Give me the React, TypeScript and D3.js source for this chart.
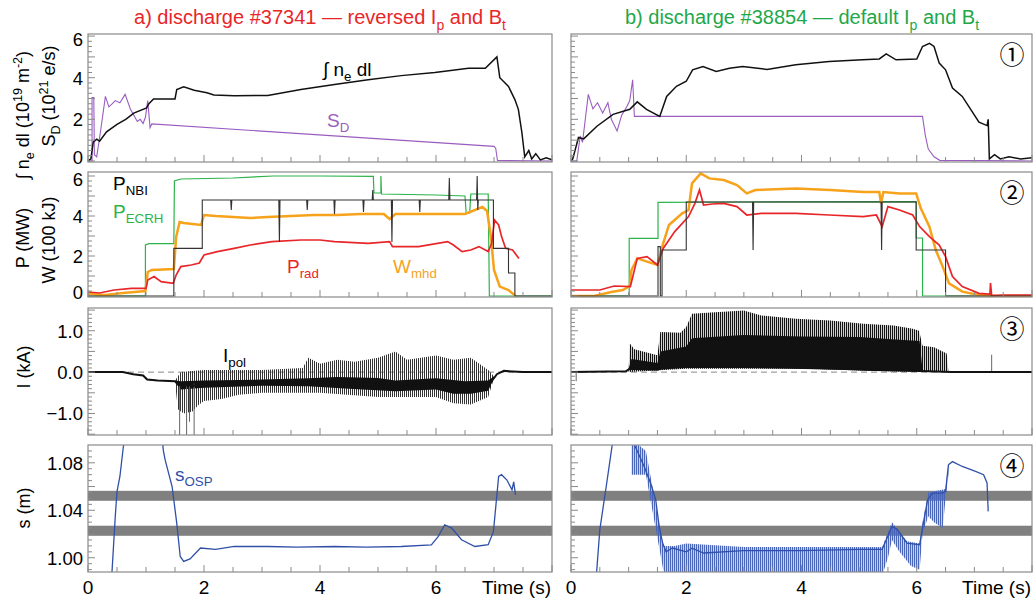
import * as d3 from "d3";

type P = [number, number];
type Part = [string, "n" | "sub" | "sup"];

const FONT = "'Liberation Sans', Arial, Helvetica, sans-serif";
const RED = "#e8262a";
const GREEN = "#1fa84a";
const ORANGE = "#f7a21b";
const PURPLE = "#9a5cc0";
const BLUE = "#3050a8";
const FRAME = "#8a8a8a";

// ---- panel 1: line-integrated density and fuelling ----
const neLeft: P[] = [
  [0, 0], [0.05, 0.1], [0.09, 0.9], [0.15, 1.05], [0.2, 0.95], [0.32, 1.4], [0.5, 1.76], [0.65, 2.0],
  [0.79, 2.3], [1.01, 2.55], [1.05, 2.75], [1.13, 2.98], [1.5, 2.98], [1.53, 3.43], [1.65, 3.56],
  [1.83, 3.4], [2.05, 3.28], [2.17, 3.17], [2.52, 3.13], [3.1, 3.15], [3.67, 3.43], [4.25, 3.67],
  [4.83, 3.9], [5.4, 4.1], [5.98, 4.25], [6.56, 4.45], [6.85, 4.45], [7.05, 5.0], [7.1, 4.0],
  [7.25, 3.58], [7.36, 2.95], [7.42, 2.48], [7.48, 1.38], [7.53, 0.2], [7.6, 0.5], [7.65, 0.1],
  [7.72, 0.35], [7.8, 0.05], [7.9, 0.15], [8, 0.05],
];
const sdLeft: P[] = [
  [0, 0], [0.07, 0], [0.07, 3.05], [0.1, 3.05], [0.11, 0.3], [0.15, 0.2], [0.22, 1.5], [0.27, 2.5],
  [0.3, 3.1], [0.36, 2.6], [0.42, 2.75], [0.47, 2.9], [0.55, 2.8], [0.64, 3.2], [0.73, 2.5],
  [0.85, 1.9], [0.9, 2.0], [0.95, 1.8], [0.99, 2.1], [1.03, 2.9], [1.07, 1.6], [1.1, 1.78],
  [7.0, 0.7], [7.03, 0.6], [7.06, 0.02], [8, 0],
];
const neRight: P[] = [
  [0, 0], [0.03, 0.1], [0.13, 1.13], [0.22, 1.06], [0.45, 1.67], [0.73, 2.24], [1.02, 2.48],
  [1.15, 2.84], [1.31, 2.48], [1.54, 2.14], [1.66, 3.1], [1.83, 3.59], [2.0, 3.83], [2.11, 4.38],
  [2.29, 4.54], [2.52, 4.3], [2.75, 4.45], [2.98, 4.54], [3.4, 4.4], [3.9, 4.62], [4.48, 4.78],
  [5.06, 4.86], [5.35, 4.9], [5.47, 5.14], [5.64, 4.86], [6.0, 4.9], [6.1, 5.5], [6.22, 5.65],
  [6.3, 5.5], [6.39, 4.7], [6.5, 4.38], [6.62, 3.5], [6.79, 3.1], [7.08, 1.86], [7.22, 1.7],
  [7.24, 2.0], [7.26, 0.1], [7.35, 0.3], [7.45, 0.1], [7.6, 0.2], [7.8, 0.1], [8, 0.15],
];
const sdRight: P[] = [
  [0, 0], [0.1, 0], [0.16, 1.2], [0.2, 0.9], [0.3, 3.2], [0.38, 2.5], [0.46, 2.8], [0.55, 2.3],
  [0.64, 2.8], [0.7, 2.0], [0.8, 1.44], [0.88, 2.2], [0.97, 2.62], [1.02, 2.9], [1.07, 3.9],
  [1.1, 2.14], [6.1, 2.14], [6.15, 1.2], [6.2, 0.57], [6.3, 0.2], [6.4, 0.03], [8, 0],
];

// ---- panel 2: heating powers, radiation, stored energy ----
const ecrhLeft: P[] = [
  [0, 0], [0.99, 0], [0.99, 2.55], [1.05, 2.62], [1.48, 2.62], [1.49, 5.75], [1.6, 5.85], [2.5, 5.9],
  [3.2, 6.0], [4.0, 6.0], [4.92, 5.98], [4.93, 5.15], [5.05, 5.15], [5.05, 6.0], [5.06, 5.1],
  [6.0, 5.05], [6.5, 5.0], [6.52, 4.15], [6.58, 4.15], [6.6, 5.1], [6.9, 5.1], [6.92, 0], [8, 0],
];
const nbiLeft: P[] = [
  [0, 0], [1.48, 0], [1.48, 2.38], [1.97, 2.38], [1.97, 4.8],
  [2.46, 4.8], [2.47, 4.3], [2.48, 4.8], [3.29, 4.8], [3.3, 2.7], [3.31, 4.8],
  [3.77, 4.8], [3.78, 4.3], [3.79, 4.8], [4.24, 4.8], [4.25, 4.1], [4.26, 4.8],
  [4.74, 4.8], [4.75, 4.2], [4.76, 4.8], [4.9, 4.8], [4.91, 5.3], [4.92, 4.8],
  [5.23, 4.8], [5.24, 2.7], [5.25, 4.8], [5.71, 4.8], [5.72, 4.2], [5.73, 4.8],
  [6.22, 4.8], [6.23, 5.9], [6.24, 4.8], [6.7, 4.8], [6.71, 6.0], [6.72, 4.3], [6.73, 4.8],
  [6.99, 4.8], [6.99, 2.38], [7.25, 2.38], [7.25, 1.15], [7.36, 1.15], [7.36, 0], [8, 0],
];
const wmhdLeft: P[] = [
  [0, 0.1], [0.3, 0.05], [0.6, 0.15], [0.8, 0.2], [0.99, 0.25], [1.03, 1.2], [1.1, 1.3], [1.48, 1.35],
  [1.52, 2.95], [1.58, 3.7], [1.65, 3.65], [1.8, 3.6], [1.95, 3.55], [2.0, 4.05], [2.2, 4.0],
  [2.5, 3.95], [2.8, 3.9], [3.1, 3.95], [3.5, 4.0], [3.9, 4.05], [4.3, 4.05], [4.7, 4.1], [5.1, 4.1],
  [5.2, 3.85], [5.3, 4.1], [5.7, 4.1], [6.1, 4.1], [6.5, 4.1], [6.8, 4.45], [6.88, 4.25],
  [6.95, 2.9], [7.0, 1.3], [7.1, 0.47], [7.25, 0.3], [7.37, 0],
];
const pradLeft: P[] = [
  [0, 0.2], [0.2, 0.15], [0.45, 0.3], [0.75, 0.38], [1.0, 0.38], [1.03, 0.8], [1.14, 0.97],
  [1.26, 0.72], [1.47, 0.63], [1.52, 1.05], [1.6, 1.47], [1.78, 1.55], [1.92, 1.65], [2.0, 2.05],
  [2.23, 2.22], [2.52, 2.38], [2.8, 2.55], [3.17, 2.72], [3.67, 2.8], [4.0, 2.8], [4.25, 2.72],
  [4.83, 2.63], [5.2, 2.72], [5.25, 2.47], [5.7, 2.47], [6.2, 2.72], [6.3, 2.55], [6.45, 2.22],
  [6.6, 2.3], [6.74, 2.47], [6.9, 2.22], [6.96, 2.63], [7.01, 3.8], [7.08, 3.55], [7.13, 2.97],
  [7.2, 2.38], [7.32, 2.3], [7.43, 1.88],
];
const ecrhRight: P[] = [
  [0, 0], [1.01, 0], [1.01, 2.88], [1.51, 2.88], [1.51, 4.68], [3.0, 4.7], [5.99, 4.72],
  [5.99, 2.9], [6.1, 2.9], [6.1, 0], [8, 0],
];
const nbiRight: P[] = [
  [0, 0], [1.51, 0], [1.51, 2.47], [1.55, 2.47], [1.55, 0], [1.58, 0], [1.58, 2.3], [2.0, 2.3],
  [2.0, 4.7], [3.15, 4.7], [3.16, 2.3], [3.17, 4.7], [5.38, 4.7], [5.39, 2.3], [5.4, 4.7],
  [5.99, 4.7], [5.99, 2.3], [6.5, 2.3], [6.5, 0], [8, 0],
];
const wmhdRight: P[] = [
  [0, 0], [0.4, 0], [0.7, 0.2], [0.9, 0.3], [1.02, 0.5], [1.05, 1.3], [1.15, 1.88], [1.32, 1.72],
  [1.5, 1.55], [1.6, 2.63], [1.7, 3.55], [1.93, 4.13], [2.04, 4.3], [2.1, 5.63], [2.25, 6.13],
  [2.4, 5.88], [2.65, 5.8], [2.88, 5.55], [3.05, 5.13], [3.2, 5.3], [3.9, 5.38], [4.5, 5.3],
  [5.07, 5.2], [5.35, 5.2], [5.38, 4.63], [5.42, 5.2], [5.7, 5.13], [5.99, 5.13], [6.07, 4.38],
  [6.22, 3.47], [6.33, 2.3], [6.45, 1.47], [6.56, 0.63], [6.79, 0.22], [7.08, 0.05], [7.4, 0], [8, 0],
];
const pradRight: P[] = [
  [0, 0.3], [0.5, 0.3], [0.75, 0.5], [1.03, 0.47], [1.15, 1.88], [1.32, 1.97], [1.5, 1.55],
  [1.6, 2.38], [1.8, 3.22], [2.04, 3.97], [2.15, 4.63], [2.23, 5.3], [2.3, 4.55], [2.45, 4.6],
  [2.65, 4.63], [2.88, 4.47], [3.05, 4.05], [3.3, 4.13], [3.9, 4.13], [4.48, 4.05], [5.07, 3.97],
  [5.3, 4.05], [5.4, 3.47], [5.5, 4.47], [5.7, 4.3], [5.93, 4.05], [6.05, 3.47], [6.22, 2.97],
  [6.39, 2.55], [6.5, 1.97], [6.62, 0.97], [6.79, 0.47], [7.08, 0.13], [7.27, 0.1], [7.28, 0.65],
  [7.3, 0.02], [7.5, 0.05], [8, 0.05],
];

// ---- panel 3: poloidal divertor current (mean, dense core, spike envelope) ----
const ipolBaseLeft: P[] = [
  [0, 0], [0.6, 0], [0.78, -0.05], [0.95, -0.08], [1.02, -0.18], [1.2, -0.2], [1.5, -0.22],
  [1.57, -0.31], [1.8, -0.33], [2.2, -0.28], [3.0, -0.25], [3.8, -0.24], [4.5, -0.27], [5.3, -0.34],
  [6.0, -0.3], [6.5, -0.38], [6.9, -0.33], [7.05, -0.05], [7.17, 0.03], [7.5, 0.0], [8, 0],
];
const ipolCoreUpLeft: P[] = [
  [1.5, -0.2], [1.6, -0.22], [2, -0.2], [3, -0.18], [3.8, -0.15], [4.3, -0.12], [5, -0.14],
  [5.3, -0.2], [6.0, -0.15], [6.5, -0.22], [6.9, -0.2], [7.0, -0.1],
];
const ipolCoreLowLeft: P[] = [
  [1.5, -0.25], [1.6, -0.42], [2, -0.38], [3, -0.33], [3.8, -0.34], [4.5, -0.4], [5.3, -0.46],
  [6.0, -0.42], [6.3, -0.52], [6.6, -0.52], [6.9, -0.45], [7.0, -0.15],
];
const ipolSpikeUpLeft: P[] = [
  [1.5, -0.2], [1.6, 0.0], [2.0, 0.05], [3.0, 0.05], [3.7, 0.1], [3.8, 0.35], [4.0, 0.2],
  [4.3, 0.3], [4.6, 0.25], [5.0, 0.35], [5.3, 0.5], [5.5, 0.3], [6.0, 0.4], [6.3, 0.3],
  [6.6, 0.35], [6.9, 0.05], [7.0, -0.1],
];
const ipolSpikeLowLeft: P[] = [
  [1.5, -0.25], [1.55, -0.9], [1.65, -1.0], [1.8, -0.95], [1.9, -0.8], [2.0, -0.7], [2.3, -0.65],
  [2.6, -0.55], [3.0, -0.5], [4, -0.5], [5, -0.6], [6.0, -0.6], [6.3, -0.75], [6.6, -0.78],
  [6.9, -0.6], [7.0, -0.15],
];
const ipolDeepLeft: P[] = [[1.58, -1.55], [1.7, -1.55], [1.75, -1.2], [1.83, -1.55]];

const ipolBaseRight: P[] = [
  [0, 0], [0.95, 0.02], [1.02, 0.08], [1.5, 0.06], [1.55, 0.08], [2.05, 0.14], [3, 0.14],
  [4, 0.12], [5.07, 0.06], [6.07, 0.03], [6.6, 0], [8, 0],
];
const ipolCoreUpRight: P[] = [
  [1.0, 0.08], [1.05, 0.32], [1.5, 0.22], [1.55, 0.5], [2.0, 0.62], [2.1, 0.82], [3, 0.9],
  [4, 0.86], [5, 0.85], [5.5, 0.8], [6.05, 0.75], [6.1, 0.05],
];
const ipolCoreLowRight: P[] = [[1.0, 0.05], [2.0, 0.1], [3, 0.1], [5, 0.05], [6.1, 0.02]];
const ipolSpikeUpRight: P[] = [
  [1.0, 0.05], [1.02, 0.69], [1.1, 0.55], [1.3, 0.48], [1.5, 0.41], [1.55, 0.97], [1.9, 0.95],
  [2.0, 1.09], [2.1, 1.41], [2.5, 1.45], [3.0, 1.49], [3.3, 1.37], [3.9, 1.29], [4.5, 1.25],
  [5.07, 1.17], [5.6, 1.13], [5.93, 1.05], [6.04, 1.0], [6.1, 0.64], [6.3, 0.6], [6.52, 0.45],
  [6.55, 0.0],
];
const ipolSpikeLowRight: P[] = [[1.0, 0.0], [2.0, 0.08], [4, 0.08], [6.0, 0.0], [6.55, 0.0]];
const ipolDeepRight: P[] = [[0.09, -0.22], [7.3, 0.42]];

// ---- panel 4: outer strike point position ----
const sBands: P[] = [[1.048, 1.0564], [1.0185, 1.027]];
const sospLeft: P[] = [
  [0.41, 0.985], [0.47, 1.0348], [0.5, 1.0558], [0.55, 1.0685], [0.61, 1.0937], [0.63, 1.1],
  [1.28, 1.1], [1.3, 1.09], [1.33, 1.0825], [1.45, 1.06], [1.53, 1.0292], [1.59, 1.0011],
  [1.65, 0.9969], [1.76, 0.999], [1.94, 1.0082], [2.2, 1.007], [2.52, 1.0095], [3.1, 1.0095],
  [3.6, 1.009], [4.25, 1.0095], [4.8, 1.009], [5.4, 1.0095], [5.92, 1.0109], [6.04, 1.018],
  [6.15, 1.0278], [6.27, 1.025], [6.44, 1.0152], [6.67, 1.0095], [6.9, 1.011], [6.99, 1.022],
  [7.08, 1.0685], [7.13, 1.07], [7.22, 1.0657], [7.31, 1.0573], [7.34, 1.064], [7.37, 1.0531],
];
const sospRight: P[] = [
  [0.44, 0.985], [0.5, 1.0236], [0.62, 1.063], [0.73, 1.1], [1.05, 1.1], [1.15, 1.09],
  [1.27, 1.0769], [1.38, 1.063], [1.47, 1.0489], [1.53, 1.0264], [1.59, 1.0124], [1.65, 1.005],
  [1.76, 1.0082], [2.0, 1.005], [2.1, 1.008], [2.3, 1.004], [3, 1.006], [4, 1.006], [5.0, 1.007],
  [5.4, 1.007], [5.57, 1.0264], [5.66, 1.024], [5.83, 1.0124], [6.05, 1.011], [6.1, 1.025],
  [6.19, 1.0489], [6.27, 1.0545], [6.45, 1.0545], [6.5, 1.056], [6.55, 1.0783], [6.62, 1.081],
  [6.79, 1.0769], [7.02, 1.0727], [7.16, 1.07], [7.22, 1.063], [7.24, 1.0391],
];
const sospRightHigh: P[] = [
  [1.05, 1.1], [1.3, 1.09], [1.6, 1.01], [1.8, 1.01], [2.0, 1.012], [3.0, 1.009], [5.4, 1.009],
  [5.57, 1.03], [5.83, 1.014], [6.05, 1.012], [6.1, 1.03], [6.2, 1.055], [6.5, 1.058], [6.55, 1.08],
];
const sospRightLow: P[] = [
  [1.05, 1.07], [1.3, 1.07], [1.6, 0.99], [1.65, 0.985], [5.4, 0.985], [5.5, 1.0], [5.57, 1.015],
  [5.7, 1.005], [5.9, 0.993], [6.05, 0.99], [6.1, 1.02], [6.2, 1.035], [6.3, 1.03], [6.45, 1.025],
  [6.5, 1.05], [6.55, 1.07],
];

const timeTicks = [0, 2, 4, 6];
const panelMarks = ["①", "②", "③", "④"];

const rows = [
  { top: 34, bottom: 162, domain: [-0.05, 6.1], ticks: [0, 2, 4, 6], fmt: "d", minor: 0.25, major: 1 },
  { top: 172, bottom: 297, domain: [-0.05, 6.2], ticks: [0, 2, 4, 6], fmt: "d", minor: 0.25, major: 1 },
  { top: 308, bottom: 435, domain: [-1.52, 1.55], ticks: [-1, 0, 1], fmt: ".1f", minor: 0.1, major: 0.5 },
  { top: 445, bottom: 572, domain: [0.988, 1.095], ticks: [1.0, 1.04, 1.08], fmt: ".2f", minor: 0.005, major: 0.02 },
];
const sides = [
  { key: "L", range: [88, 552] },
  { key: "R", range: [571, 1032] },
];

function Txt({ x, y, parts, fill = "#000", size = 19, anchor = "start", transform }: any) {
  let cur = 0;
  return (
    <text x={x} y={y} fill={fill} fontSize={size} textAnchor={anchor} transform={transform} fontFamily={FONT}>
      {parts.map(([s, k]: Part, i: number) => {
        const off = k === "sub" ? size * 0.28 : k === "sup" ? -size * 0.38 : 0;
        const dy = off - cur;
        cur = off;
        return (
          <tspan key={i} dy={dy} fontSize={k === "n" ? size : size * 0.7}>
            {s}
          </tspan>
        );
      })}
    </text>
  );
}

function Panel({ row, side, ri }: any) {
  const x = d3.scaleLinear().domain([0, 8]).range(side.range);
  const y = d3.scaleLinear().domain(row.domain).range([row.bottom, row.top]);
  const ln = d3.line<P>().x((d) => x(d[0])).y((d) => y(d[1]));
  const band = (up: P[], low: P[]) => ln([...up, ...low.slice().reverse()]) + "Z";
  const clip = `clip-${side.key}${ri}`;
  const L = side.key === "L";
  const [x0, x1] = side.range;
  const yMinor = d3.range(Math.ceil(row.domain[0] / row.minor) * row.minor, row.domain[1], row.minor);
  const isMajor = (v: number) => Math.abs(v / row.major - Math.round(v / row.major)) < 1e-6;
  const fmt = d3.format(row.fmt);
  // keep tick labels of neighbouring panels apart
  const labelY = (v: number) => {
    const py = y(v);
    if (py > row.bottom - 4) return py + 3;
    if (py < row.top + 6) return py + 10;
    return py + 7;
  };

  let content: any = null;
  if (ri === 0) {
    content = (
      <g>
        <path d={ln(L ? sdLeft : sdRight)!} fill="none" stroke={PURPLE} strokeWidth={1.1} />
        <path d={ln(L ? neLeft : neRight)!} fill="none" stroke="#111" strokeWidth={1.5} />
      </g>
    );
  } else if (ri === 1) {
    content = (
      <g>
        <path d={ln(L ? ecrhLeft : ecrhRight)!} fill="none" stroke="#2db34a" strokeWidth={1.2} />
        <path d={ln(L ? wmhdLeft : wmhdRight)!} fill="none" stroke={ORANGE} strokeWidth={2.5} />
        <path d={ln(L ? pradLeft : pradRight)!} fill="none" stroke={RED} strokeWidth={1.7} />
        <path d={ln(L ? nbiLeft : nbiRight)!} fill="none" stroke="#333" strokeWidth={1.1} />
      </g>
    );
  } else if (ri === 2) {
    const deep = L ? ipolDeepLeft : ipolDeepRight;
    const base = L ? ipolBaseLeft : ipolBaseRight;
    const baseAt = (t: number) => {
      const i = d3.bisector((d: P) => d[0]).left(base, t);
      return base[Math.min(i, base.length - 1)][1];
    };
    content = (
      <g>
        <line x1={x0} x2={x1} y1={y(0)} y2={y(0)} stroke="#888" strokeWidth={1} strokeDasharray="6,4" />
        <path d={band(L ? ipolSpikeUpLeft : ipolSpikeUpRight, L ? ipolSpikeLowLeft : ipolSpikeLowRight)}
          fill={L ? "url(#hatchG)" : "url(#hatchK)"} />
        <path d={band(L ? ipolCoreUpLeft : ipolCoreUpRight, L ? ipolCoreLowLeft : ipolCoreLowRight)} fill="#111" />
        {deep.map((d, i) => (
          <line key={i} x1={x(d[0])} x2={x(d[0])} y1={y(baseAt(d[0]))} y2={y(d[1])} stroke="#666" strokeWidth={1} />
        ))}
        <path d={ln(base)!} fill="none" stroke="#111" strokeWidth={2} />
      </g>
    );
  } else {
    content = (
      <g>
        {sBands.map((b, i) => (
          <rect key={i} x={x0} width={x1 - x0} y={y(b[1])} height={y(b[0]) - y(b[1])} fill="#808080" />
        ))}
        {!L && <path d={band(sospRightHigh, sospRightLow)} fill="url(#hatchB)" />}
        <path d={ln(L ? sospLeft : sospRight)!} fill="none" stroke={BLUE} strokeWidth={1.3} />
      </g>
    );
  }

  return (
    <g>
      <clipPath id={clip}>
        <rect x={x0} y={row.top} width={x1 - x0} height={row.bottom - row.top} />
      </clipPath>
      <g clipPath={`url(#${clip})`}>{content}</g>
      {d3.range(0, 8.01, 0.5).map((t) => (
        <line key={t} x1={x(t)} x2={x(t)} y1={row.bottom} y2={row.bottom - (t % 2 === 0 ? 7 : 5)} stroke={FRAME} />
      ))}
      {yMinor.map((v) => (
        <line key={v} x1={x0} x2={x0 + (isMajor(v) ? 7 : 4)} y1={y(v)} y2={y(v)} stroke={FRAME} />
      ))}
      <rect x={x0} y={row.top} width={x1 - x0} height={row.bottom - row.top} fill="none" stroke={FRAME} strokeWidth={1.2} />
      {L &&
        row.ticks.map((v: number) => (
          <text key={v} x={83} y={labelY(v)} textAnchor="end" fontSize={18.5} fontFamily={FONT}>
            {fmt(v)}
          </text>
        ))}
      {!L && (
        <text x={1012} y={row.top + 30} textAnchor="middle" fontSize={25} fontFamily="'Noto Sans CJK JP', 'DejaVu Sans'">
          {panelMarks[ri]}
        </text>
      )}
      {ri === 3 &&
        timeTicks.map((t) => (
          <text key={t} x={x(t)} y={594} textAnchor="middle" fontSize={19} fontFamily={FONT}>
            {t}
          </text>
        ))}
      {ri === 3 && (
        <text x={x1 - 1} y={594} textAnchor="end" fontSize={19} fontFamily={FONT}>
          Time (s)
        </text>
      )}
    </g>
  );
}

export default function App() {
  const rot = (x: number, y: number) => `translate(${x},${y}) rotate(-90)`;
  return (
    <div style={{ position: "absolute", left: 0, top: 0 }}>
      <svg width={1033} height={603} style={{ display: "block", background: "#fff" }}>
        <defs>
          <pattern id="hatchK" patternUnits="userSpaceOnUse" width={2} height={10}>
            <rect x={0} y={0} width={1.2} height={10} fill="#111" />
          </pattern>
          <pattern id="hatchG" patternUnits="userSpaceOnUse" width={2} height={10}>
            <rect x={0} y={0} width={1} height={10} fill="#333" />
          </pattern>
          <pattern id="hatchB" patternUnits="userSpaceOnUse" width={2} height={10}>
            <rect x={0} y={0} width={1.3} height={10} fill="#4a66b8" />
          </pattern>
        </defs>
        <Txt x={320} y={24} anchor="middle" fill={RED} size={20}
          parts={[["a) discharge #37341 — reversed I", "n"], ["p", "sub"], [" and B", "n"], ["t", "sub"]]} />
        <Txt x={802} y={24} anchor="middle" fill={GREEN} size={20}
          parts={[["b) discharge #38854 — default I", "n"], ["p", "sub"], [" and B", "n"], ["t", "sub"]]} />

        {rows.map((row, ri) =>
          sides.map((side) => <Panel key={side.key + ri} row={row} side={side} ri={ri} />)
        )}

        {/* y-axis titles */}
        <Txt transform={rot(29, 115)} x={0} y={0} anchor="middle" size={18}
          parts={[["∫ n", "n"], ["e", "sub"], [" dl (10", "n"], ["19", "sup"], [" m", "n"], ["-2", "sup"], [")", "n"]]} />
        <Txt transform={rot(55, 96)} x={0} y={0} anchor="middle" size={18}
          parts={[["S", "n"], ["D", "sub"], [" (10", "n"], ["21", "sup"], [" e/s)", "n"]]} />
        <Txt transform={rot(29, 238)} x={0} y={0} anchor="middle" size={18} parts={[["P (MW)", "n"]]} />
        <Txt transform={rot(55, 240)} x={0} y={0} anchor="middle" size={18} parts={[["W (100 kJ)", "n"]]} />
        <Txt transform={rot(30, 367)} x={0} y={0} anchor="middle" size={18} parts={[["I (kA)", "n"]]} />
        <Txt transform={rot(30, 508)} x={0} y={0} anchor="middle" size={18} parts={[["s (m)", "n"]]} />

        {/* in-plot labels */}
        <Txt x={323} y={76} parts={[["∫ n", "n"], ["e", "sub"], [" dl", "n"]]} />
        <Txt x={327} y={127} fill={PURPLE} parts={[["S", "n"], ["D", "sub"]]} />
        <Txt x={113} y={190} parts={[["P", "n"], ["NBI", "sub"]]} />
        <Txt x={113} y={218} fill="#2db34a" parts={[["P", "n"], ["ECRH", "sub"]]} />
        <Txt x={287} y={273} fill={RED} parts={[["P", "n"], ["rad", "sub"]]} />
        <Txt x={393} y={273} fill={ORANGE} parts={[["W", "n"], ["mhd", "sub"]]} />
        <Txt x={223} y={362} parts={[["I", "n"], ["pol", "sub"]]} />
        <Txt x={175} y={481} fill={BLUE} parts={[["s", "n"], ["OSP", "sub"]]} />
      </svg>
    </div>
  );
}
